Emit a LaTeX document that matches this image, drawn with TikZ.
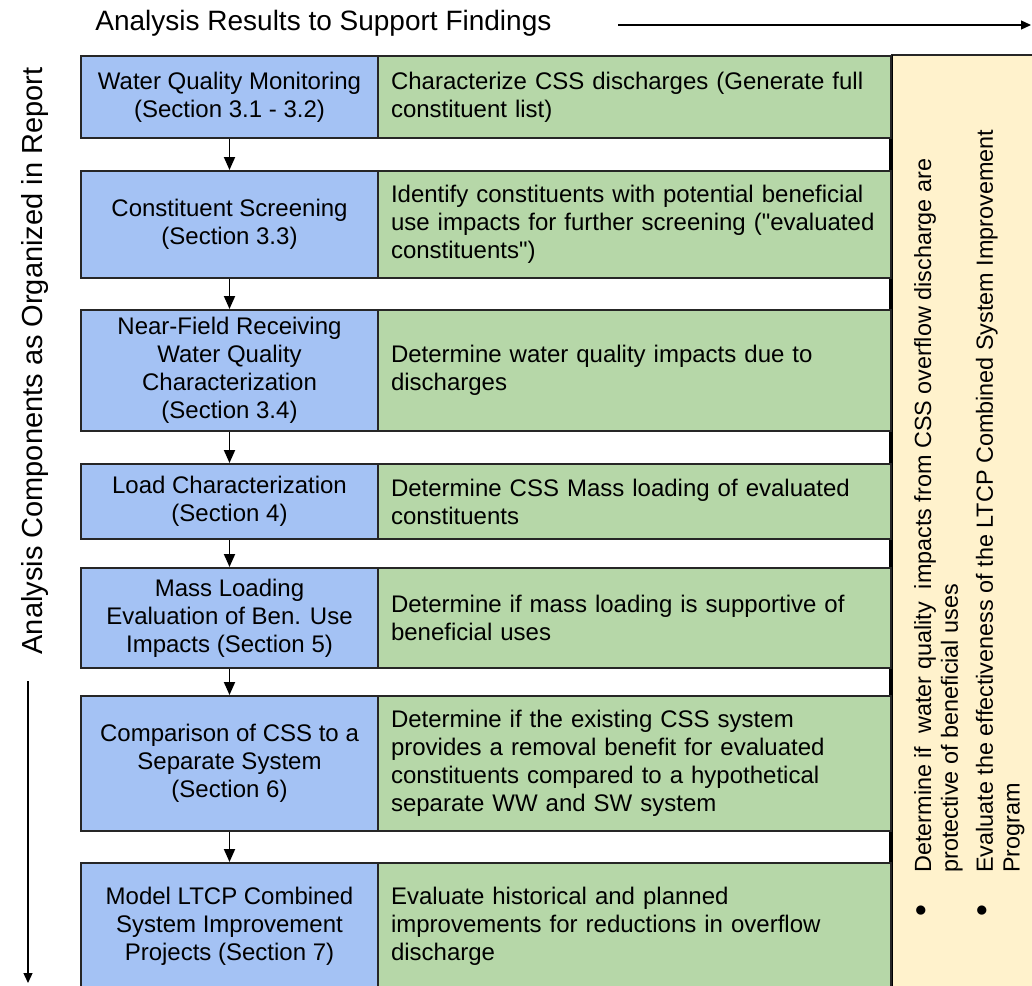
\documentclass[tikz,border=0pt]{standalone}
\usepackage{fontspec}
\setmainfont{Liberation Sans}[Ligatures=TeXOff]
\usetikzlibrary{arrows.meta}
\definecolor{boxblue}{HTML}{A4C2F4}
\definecolor{boxgreen}{HTML}{B6D7A8}
\definecolor{boxtan}{HTML}{FFF2CC}
\newcommand{\bigbul}{\raisebox{-0.5pt}{\scalebox{1.45}{\textbullet}}}
\begin{document}
\begin{tikzpicture}[x=0.5pt,y=-0.5pt,
  basebox/.style={draw=black!85, line width=1pt, inner sep=0pt, anchor=north west,
    font=\fontsize{12}{14}\selectfont},
  comp/.style={basebox, fill=boxblue, align=center, minimum width=148.5pt},
  res/.style={basebox, fill=boxgreen, align=left, minimum width=256.5pt, text width=243.5pt},
  flowarrow/.style={line width=0.9pt, -{Triangle[length=6.5pt,width=5.5pt]}},
  axisarrow/.style={line width=0.6pt, -{Triangle[length=5pt,width=4.5pt]}},
  axislabel/.style={inner sep=0pt, font=\fontsize{14.5}{16}\selectfont}
]
\useasboundingbox (0,0) rectangle (1032,985);
\clip (0,0) rectangle (1032,985);

% top label and arrow
\node[axislabel, anchor=west, font=\fontsize{14}{16}\selectfont] (toplabel) at (95,23) {Analysis Results to Support Findings};
\coordinate (ta1) at (618,25);
\coordinate (ta2) at (1031,25);
\draw[axisarrow] (ta1) -- (ta2);

% left label and arrow
\node[axislabel, rotate=90] (leftlabel) at (35,361) {Analysis Components as Organized in Report};
\coordinate (la1) at (28,681);
\coordinate (la2) at (28,983);
\draw[axisarrow] (la1) -- (la2);

% tan findings panel
\node[fill=boxtan, inner sep=0pt, anchor=north west, minimum width=80pt, minimum height=480pt] (tan) at (891,55) {};
\draw[black!85, line width=0.8pt] (tan.north west) -- (tan.north east);
\draw[black, line width=1.6pt] (tan.north west) -- (tan.south west);
\node[rotate=90, anchor=north west, inner sep=0pt, font=\fontsize{11.7}{13.4}\selectfont] (findings) at (912,917)
 {\begin{tabular}{@{}p{22pt}@{}l@{}}
  \bigbul & Determine if\ \ water quality\ \ impacts from CSS overflow discharge are\\
          & protective of beneficial uses\\[4pt]
  \bigbul & Evaluate the effectiveness of the LTCP Combined System Improvement\\
          & Program
  \end{tabular}};

% rows
\node[comp, minimum height=41pt] (b1) at (80,55) {Water Quality Monitoring\\(Section 3.1 - 3.2)};
\node[res, minimum height=41pt] (g1) at (377,55) {Characterize CSS discharges (Generate full\\constituent list)};

\node[comp, minimum height=53.5pt] (b2) at (80,170) {Constituent Screening\\(Section 3.3)};
\node[res, minimum height=53.5pt] (g2) at (377,170) {Identify constituents with potential beneficial\\use impacts for further screening ("evaluated\\constituents")};

\node[comp, minimum height=60.5pt] (b3) at (80,309) {Near-Field Receiving\\Water Quality\\Characterization\\(Section 3.4)};
\node[res, minimum height=60.5pt] (g3) at (377,309) {Determine water quality impacts due to\\discharges};

\node[comp, minimum height=37.5pt] (b4) at (80,463) {Load Characterization\\(Section 4)};
\node[res, minimum height=37.5pt] (g4) at (377,463) {Determine CSS Mass loading of evaluated\\constituents};

\node[comp, minimum height=50pt] (b5) at (80,567) {Mass Loading\\Evaluation of Ben. Use\\Impacts (Section 5)};
\node[res, minimum height=50pt] (g5) at (377,567) {Determine if mass loading is supportive of\\beneficial uses};

\node[comp, minimum height=67.5pt] (b6) at (80,695) {Comparison of CSS to a\\Separate System\\(Section 6)};
\node[res, minimum height=67.5pt] (g6) at (377,695) {Determine if the existing CSS system\\provides a removal benefit for evaluated\\constituents compared to a hypothetical\\separate WW and SW system};

\node[comp, minimum height=63pt] (b7) at (80,862) {Model LTCP Combined\\System Improvement\\Projects (Section 7)};
\node[res, minimum height=63pt] (g7) at (377,862) {Evaluate historical and planned\\improvements for reductions in overflow\\discharge};

% flow arrows
\draw[flowarrow] (b1.south) -- (b2.north);
\draw[flowarrow] (b2.south) -- (b3.north);
\draw[flowarrow] (b3.south) -- (b4.north);
\draw[flowarrow] (b4.south) -- (b5.north);
\draw[flowarrow] (b5.south) -- (b6.north);
\draw[flowarrow] (b6.south) -- (b7.north);
\end{tikzpicture}
\end{document}
